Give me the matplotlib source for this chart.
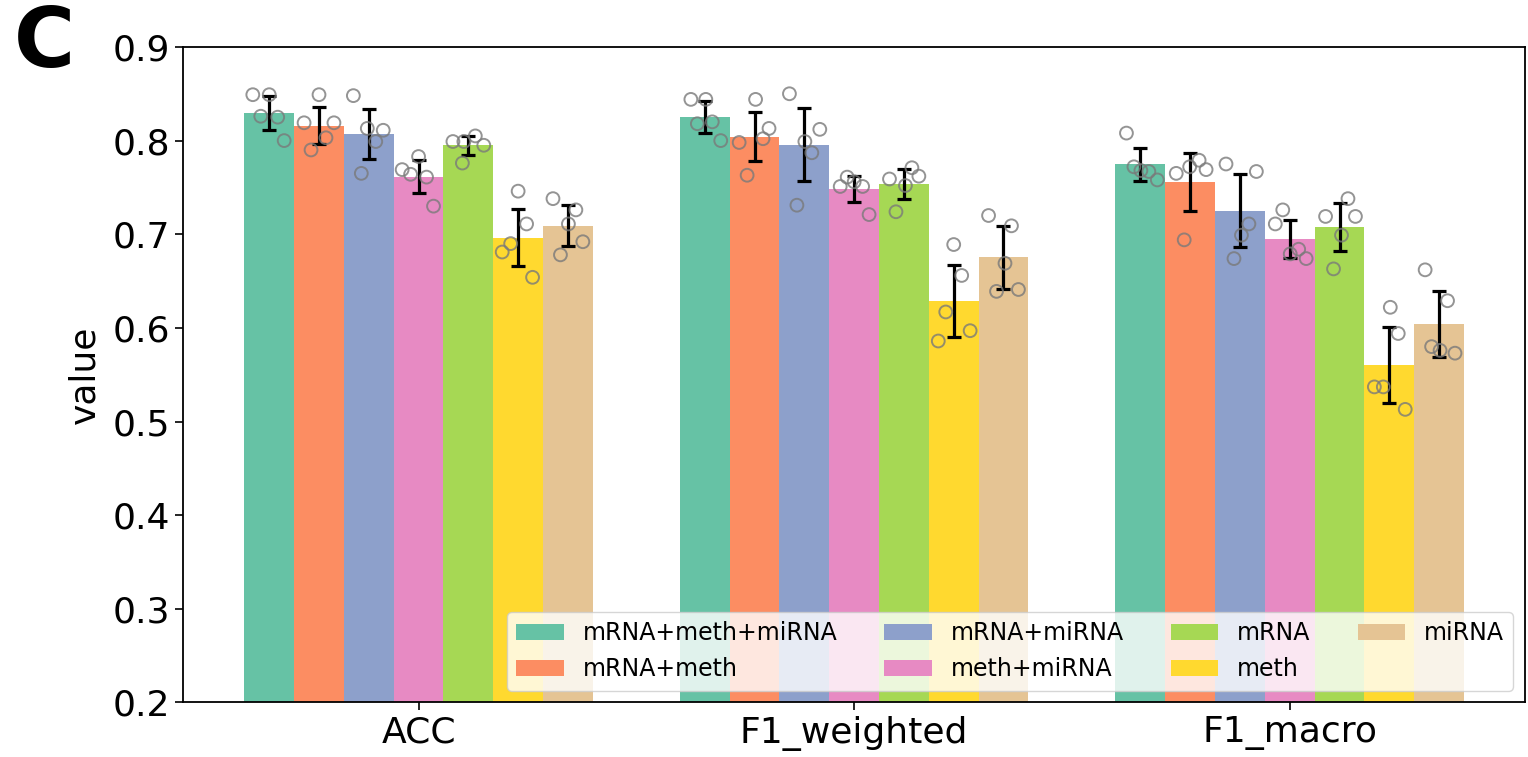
import numpy as np
import matplotlib
matplotlib.use("Agg")
import matplotlib.pyplot as plt

# Categories
metrics = ["ACC", "F1_weighted", "F1_macro"]
models = ["mRNA+meth+miRNA", "mRNA+meth", "mRNA+miRNA", "meth+miRNA",
          "mRNA", "meth", "miRNA"]
colors = ["#66c2a5", "#fc8d62", "#8da0cb", "#e78ac3",
          "#a6d854", "#ffd92f", "#e5c494"]

# Per-fold scores (5 folds) for each model, rows = ACC, F1_weighted, F1_macro
mrna_meth_mirna = [[0.849, 0.849, 0.826, 0.825, 0.800],
                   [0.844, 0.844, 0.818, 0.820, 0.800],
                   [0.808, 0.772, 0.767, 0.758, 0.768]]
mrna_meth = [[0.849, 0.819, 0.819, 0.803, 0.790],
             [0.844, 0.813, 0.798, 0.802, 0.763],
             [0.779, 0.769, 0.765, 0.772, 0.694]]
mrna_mirna = [[0.848, 0.813, 0.811, 0.799, 0.765],
              [0.850, 0.812, 0.799, 0.787, 0.731],
              [0.775, 0.767, 0.711, 0.699, 0.674]]
meth_mirna = [[0.783, 0.769, 0.764, 0.761, 0.730],
              [0.761, 0.751, 0.751, 0.756, 0.721],
              [0.726, 0.711, 0.684, 0.679, 0.674]]
mrna = [[0.799, 0.799, 0.805, 0.795, 0.776],
        [0.771, 0.762, 0.759, 0.752, 0.724],
        [0.738, 0.719, 0.719, 0.699, 0.663]]
meth = [[0.746, 0.711, 0.690, 0.681, 0.654],
        [0.689, 0.656, 0.617, 0.597, 0.586],
        [0.622, 0.594, 0.537, 0.537, 0.513]]
mirna = [[0.738, 0.726, 0.711, 0.692, 0.678],
         [0.720, 0.709, 0.669, 0.639, 0.641],
         [0.662, 0.629, 0.580, 0.576, 0.573]]
scores = [mrna_meth_mirna, mrna_meth, mrna_mirna, meth_mirna, mrna, meth, mirna]

# horizontal jitter of the fold points, as a fraction of one bar width
jitter_acc = [[-0.33, 0.0, -0.17, 0.17, 0.3], [0.0, -0.3, 0.3, 0.14, -0.16],
              [-0.31, -0.03, 0.29, 0.14, -0.15], [0.0, -0.33, -0.16, 0.16, 0.3],
              [-0.31, -0.09, 0.14, 0.31, -0.12], [0.0, 0.17, -0.15, -0.32, 0.29],
              [-0.3, 0.16, 0.01, 0.3, -0.15]]
jitter_f1w = [[-0.28, 0.02, -0.15, 0.15, 0.32], [0.02, 0.29, -0.31, 0.17, -0.15],
              [-0.3, 0.31, 0.01, 0.15, -0.15], [-0.14, -0.28, 0.17, 0.0, 0.3],
              [0.16, 0.3, -0.29, 0.03, -0.16], [0.0, 0.16, -0.16, 0.33, -0.31],
              [-0.3, 0.16, 0.03, -0.14, 0.3]]
jitter_f1m = [[-0.28, -0.13, 0.17, 0.34, 0.01], [0.18, 0.32, -0.28, -0.01, -0.12],
              [-0.28, 0.33, 0.18, 0.03, -0.12], [-0.14, -0.29, 0.18, 0.01, 0.33],
              [0.17, -0.28, 0.32, 0.04, -0.12], [0.02, 0.18, -0.3, -0.12, 0.32],
              [-0.28, 0.17, -0.15, 0.02, 0.32]]
jitters = [jitter_acc, jitter_f1w, jitter_f1m]

fig = plt.figure(figsize=(15.28, 7.57), dpi=100)
ax = fig.add_axes([0.12, 0.072, 0.878, 0.866])

n = len(models)
width = 0.8 / n
x = np.arange(len(metrics))

for i, (name, color) in enumerate(zip(models, colors)):
    vals = np.array(scores[i])
    means = vals.mean(axis=1)
    sds = vals.std(axis=1)
    pos = x - 0.4 + width * (i + 0.5)
    ax.bar(pos, means, width=width, color=color, label=name, zorder=1)
    ax.errorbar(pos, means, yerr=sds, fmt="none", ecolor="black",
                elinewidth=2.3, capsize=5, capthick=2.3, zorder=3)
    for m in range(len(metrics)):
        px = pos[m] + np.array(jitters[m][i]) * width
        ax.scatter(px, vals[m], s=85, facecolors="none", edgecolors="#7a7a7a",
                   linewidths=1.4, alpha=0.8, zorder=4)

ax.set_xlim(-0.54, 2.54)
ax.set_ylim(0.2, 0.9)
ax.set_xticks(x)
ax.set_xticklabels(metrics)
ax.set_yticks(np.arange(0.2, 0.91, 0.1))
ax.set_yticklabels([f"{t:.1f}" for t in np.arange(0.2, 0.91, 0.1)])
ax.tick_params(labelsize=26, width=1.2, length=6)
ax.set_ylabel("value", fontsize=26, labelpad=8)
for sp in ax.spines.values():
    sp.set_linewidth(1.3)

ax.legend(loc="lower right", ncol=4, fontsize=17)

fig.text(0.009, 0.943, "C", fontsize=60, fontweight="bold", va="center")

fig.savefig("out.png", dpi=100)
